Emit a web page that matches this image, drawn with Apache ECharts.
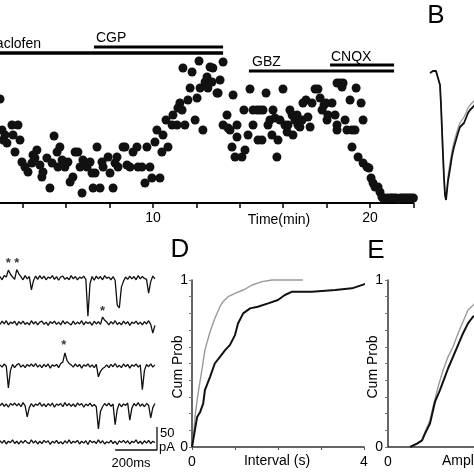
<!DOCTYPE html>
<html><head><meta charset="utf-8">
<script src="https://cdn.jsdelivr.net/npm/echarts@6/dist/echarts.min.js"></script>
<style>html,body{margin:0;padding:0;background:#fff}#c{width:474px;height:474px}</style>
</head><body><div id="c"></div>
<script>
// ---------- Panel A: EPSC amplitude vs time ----------
const aTime = [2.95,3.04,3.18,3.09,3.27,3.50,3.78,3.55,3.87,3.64,3.96,4.10,4.24,4.42,4.47,4.65,4.56,4.79,4.88,4.93,5.11,5.25,5.35,5.44,5.58,5.71,5.62,5.81,5.94,6.08,6.18,6.31,6.41,6.54,6.64,6.73,6.77,6.96,7.10,7.19,7.33,7.42,7.24,7.56,7.65,7.70,7.93,8.02,8.16,8.25,8.34,8.39,8.62,8.71,8.80,8.94,9.08,9.26,9.31,9.49,9.63,9.72,9.86,9.95,10.09,10.18,10.32,10.41,10.46,10.60,10.69,10.88,10.92,11.11,11.15,11.24,11.34,11.38,11.47,11.61,11.71,11.80,11.94,12.03,12.12,12.17,12.30,12.40,12.49,12.53,12.63,12.72,12.76,12.95,13.00,13.09,13.23,13.23,13.41,13.46,13.55,13.64,13.69,13.78,13.87,13.87,14.10,14.24,14.19,14.47,14.38,14.61,14.61,14.79,14.84,14.93,15.02,15.07,15.21,15.30,15.39,15.48,15.53,15.62,15.71,15.76,15.85,15.99,16.08,16.18,16.22,16.31,16.41,16.45,16.54,16.64,16.68,16.77,16.87,16.91,17.05,17.14,17.24,17.33,17.47,17.60,17.70,17.79,17.88,17.97,18.02,18.06,18.25,18.39,18.48,18.48,18.48,18.62,18.76,18.71,18.85,18.94,19.08,19.17,19.31,19.36,19.59,19.68,19.17,19.45,19.68,19.86,19.95,20.05,20.14,20.23,20.37,20.46,20.55,20.60,20.78,20.92,21.0,21.1,21.2,21.3,21.4,21.5,21.6,21.7,21.8,21.9,22.0,22.15];
const aAmp = [104,73,68,63,60,78,78,68,63,51,41,36,31,40,48,53,45,38,26,31,45,15,40,67,51,56,36,43,36,41,21,26,51,51,36,10,43,36,41,30,30,56,15,15,41,36,46,30,15,40,46,36,56,56,38,36,51,56,36,36,20,56,36,25,61,73,25,51,68,83,56,78,88,78,95,100,93,135,78,103,115,131,83,105,142,115,73,121,126,115,136,121,135,110,110,123,141,78,88,75,73,56,108,46,66,78,46,53,93,114,68,78,93,93,63,93,63,93,110,78,83,68,93,85,46,63,83,114,78,71,78,93,88,68,83,88,78,76,83,100,103,86,76,100,114,114,105,93,98,100,83,88,100,88,78,120,73,120,120,116,83,73,103,73,73,115,100,83,56,46,40,36,35,25,20,16,16,11,6,5,5,5,5,5,5,4,5,5,5,5,5,5,5];
const drugNames = ['Baclofen','CGP','GBZ','CNQX'];
const drugStart = [2.0, 7.28, 14.42, 18.16];
const drugEnd   = [13.23, 13.23, 21.11, 21.11];
const drugLevel = [150, 156, 132, 138];
const aTickLabels = [10, 20];

// ---------- Panel B: averaged EPSC traces ----------
const bTime = [1,2,2.5,3.5,4,4.5,5,6,6.5,7,7.5,8,8.5,9,10,11,12,13,14,15,16,17,18,19,20,21,22,23,24];
const bCtl  = [-3,-2,-1,-3,-1,0,-2,-15,-35,-60,-85,-108,-125,-130,-111,-99,-86,-77,-70,-63,-57,-55,-53,-48,-43,-40,-38,-36,-33];
const bDrug = [-3,-2,-1,-3,-1,0,-2,-15,-35,-60,-85,-108,-125,-129,-106,-93,-81,-72,-65,-58,-53,-50,-47,-43,-38,-35,-33,-31,-29];

// ---------- Panel C: sweeps (pA relative to baseline, 10 ms samples) ----------
const sampleMs = 10;
const sweep1 = [3,-4,5,2,17,8,2,-3,18,9,3,-4,5,-2,3,-26,-6,4,-3,5,-2,4,-4,2,-1,5,-3,3,-5,2,4,-3,1,-4,5,-2,3,-4,2,-1,4,-3,-83,-12,3,-5,4,-2,3,-4,5,-1,2,-4,3,-5,-59,-65,-20,-7,2,-3,4,-2,3,-4,5,-2,3,-1,-3,-33,-8,4,-2];
const sweep2 = [-3,4,-2,5,-4,2,-1,4,-5,3,-2,4,-3,1,-4,5,-2,3,-4,2,4,-3,2,-5,3,-1,4,-3,2,-4,5,-2,3,-1,-4,4,-3,2,-2,5,-4,3,-1,2,-5,4,-2,3,-3,13,6,2,-4,3,-2,5,-3,1,-4,4,-2,3,-5,2,-1,4,-3,2,-4,3,-2,5,-3,-22,-5];
const sweep3 = [2,-3,4,-1,-48,-10,3,-4,2,5,-3,2,-4,3,-1,4,-2,5,-3,2,-4,3,-2,4,-5,2,-1,3,-4,5,8,28,12,5,2,-3,4,-2,3,-5,2,-1,4,-3,2,-4,3,-24,-12,-6,-3,2,-4,3,-2,5,-3,1,-4,4,-2,3,-5,2,-1,4,-3,2,-52,-10,3,-2,4,-3,2];
const sweep4 = [-2,4,-3,2,-5,3,-1,4,-2,3,-4,5,-2,-26,-6,3,-4,2,-1,5,-3,2,-4,3,-2,4,-5,2,-1,3,-4,5,-2,3,-3,2,-4,4,-1,3,-5,2,-2,4,-3,1,-4,-52,-14,-4,3,-2,4,-3,2,-43,-10,3,-4,2,-1,4,-33,-7,3,-2,5,-3,2,-4,3,-1,-28,-6,3];
const sweep5 = [3,-2,4,-4,2,-1,5,-3,2,-4,3,-2,4,-1,-3,5,-2,3,-4,2,-3,4,-1,3,-5,2,-2,4,-3,1,-4,3,-2,5,-3,2,-1,4,-4,2,-2,3,-5,4,-1,2,-3,5,-2,3,-4,1,-2,4,-3,2,-5,3,-1,4,-2,3,-4,2,-1,5,-3,2,-4,3,-2,4,-3,2,-1];
const starTime = [40, 80, 490, 305];
const starSweep = [0, 0, 1, 2];
const scaleBarMs = 200, scaleBarPA = 50;

// ---------- Panel D: cumulative interval ----------
const dCtlX = [0,0.12,0.19,0.26,0.30,0.42,0.53,0.65,0.77,0.88,1.0,1.07,1.19,1.35,1.53,1.77,2.0,2.16,2.33,2.79,3.33,3.72,4.07];
const dCtlY = [0,0.18,0.21,0.26,0.34,0.42,0.50,0.54,0.58,0.61,0.67,0.74,0.80,0.83,0.84,0.86,0.88,0.91,0.93,0.93,0.94,0.95,0.98];
const dDrugX = [0,0.02,0.07,0.14,0.23,0.30,0.42,0.53,0.65,0.72,0.84,1.0,1.19,1.40,1.63,1.86,2.58];
const dDrugY = [0,0.02,0.18,0.32,0.46,0.58,0.69,0.77,0.84,0.87,0.90,0.92,0.94,0.97,0.99,1.0,1.0];

// ---------- Panel E: cumulative amplitude ----------
const eCtlX = [12.8,16.9,19.8,21.5,24.4,26.2,27.3,30.2,33.1,34.9,37.8,40.7,43.6,46.5,49.4,51.7];
const eCtlY = [0,0.02,0.04,0.08,0.14,0.22,0.27,0.34,0.42,0.47,0.54,0.61,0.68,0.74,0.78,0.79];
const eDrugX = [12.8,16.9,19.8,21.5,24.4,26.2,29.1,32.0,34.9,37.8,40.7,43.6,46.5,50.6];
const eDrugY = [0,0.02,0.04,0.09,0.16,0.24,0.36,0.46,0.54,0.60,0.68,0.75,0.82,0.86];

// ================= build =================
const F = "'Liberation Sans', Arial, Helvetica, sans-serif";
const zip = (xs, ys) => xs.map((x, i) => [x, ys[i]]);
const sweeps = [sweep1, sweep2, sweep3, sweep4, sweep5];
const sweepBase = [-39, -137, -230, -315, -396];   // layout offsets (pA) of stacked sweeps
const starLift = [32, 32, 26, 45];

const hiddenAxis = (gi, min, max) => ({gridIndex: gi, min, max, show: false});
const series = [];

drugNames.forEach((n, i) => series.push({
  type: 'line', xAxisIndex: 0, yAxisIndex: 0, symbol: 'none', silent: true, clip: false,
  data: [[drugStart[i], drugLevel[i]], [drugEnd[i], drugLevel[i]]],
  lineStyle: {color: '#000', width: i === 0 ? 3.5 : 3}
}));
series.push({
  type: 'scatter', xAxisIndex: 0, yAxisIndex: 0, clip: false, symbolSize: 9,
  itemStyle: {color: '#111', opacity: 1}, data: zip(aTime, aAmp)
});
series.push({type: 'line', xAxisIndex: 1, yAxisIndex: 1, symbol: 'none', clip: false,
  data: zip(bTime, bDrug), lineStyle: {color: '#999', width: 1.3}});
series.push({type: 'line', xAxisIndex: 1, yAxisIndex: 1, symbol: 'none', clip: false,
  data: zip(bTime, bCtl), lineStyle: {color: '#111', width: 1.8}});
sweeps.forEach((s, k) => series.push({
  type: 'line', xAxisIndex: 2, yAxisIndex: 2, symbol: 'none', clip: false,
  data: s.map((v, i) => [i * sampleMs, sweepBase[k] + v]),
  lineStyle: {color: '#111', width: 1.3}
}));
series.push({
  type: 'scatter', xAxisIndex: 2, yAxisIndex: 2, symbolSize: 0, clip: false,
  data: starTime.map((t, i) => [t, sweepBase[starSweep[i]] + starLift[i]]),
  label: {show: true, formatter: '*', position: 'inside', color: '#000', fontSize: 13, fontFamily: F, fontWeight: 'bold'}
});
series.push({
  type: 'line', xAxisIndex: 2, yAxisIndex: 2, symbol: 'none', clip: false,
  data: [[750 - scaleBarMs, -413], [750, -413], [750, -413 + scaleBarPA]],
  lineStyle: {color: '#111', width: 1.3}
});
series.push({type: 'line', xAxisIndex: 3, yAxisIndex: 3, symbol: 'none', clip: false,
  data: zip(dDrugX, dDrugY), lineStyle: {color: '#999', width: 1.4}});
series.push({type: 'line', xAxisIndex: 3, yAxisIndex: 3, symbol: 'none', clip: false,
  data: zip(dCtlX, dCtlY), lineStyle: {color: '#111', width: 2}});
series.push({type: 'line', xAxisIndex: 4, yAxisIndex: 4, symbol: 'none', clip: false,
  data: zip(eDrugX, eDrugY), lineStyle: {color: '#999', width: 1.4}});
series.push({type: 'line', xAxisIndex: 4, yAxisIndex: 4, symbol: 'none', clip: false,
  data: zip(eCtlX, eCtlY), lineStyle: {color: '#111', width: 2}});

const axLine = {lineStyle: {color: '#333', width: 1.5}};
const near = (a, b) => Math.abs(a - b) < 1e-9;

const txt = (text, x, y, opt = {}) => ({
  type: 'text', x, y, rotation: opt.rot || 0, silent: true,
  style: {text, fill: '#000', font: (opt.size || 14) + 'px ' + F,
    textAlign: opt.align || 'left', align: opt.align || 'left',
    textVerticalAlign: 'middle', verticalAlign: 'middle'}
});
const G = (o) => Object.assign({outerBoundsMode: 'none', containLabel: false}, o);

const option = {
  animation: false,
  backgroundColor: '#fff',
  grid: [
    G({left: -20.6, top: 40, width: 434, height: 163}),
    G({left: 428, top: 60, width: 60, height: 150}),
    G({left: 0, top: 260, width: 157, height: 207}),
    G({left: 192, top: 280, width: 172, height: 167}),
    G({left: 388, top: 280, width: 172, height: 167})
  ],
  xAxis: [
    {gridIndex: 0, type: 'value', min: 2, max: 22, interval: 2,
     axisLine: {lineStyle: {color: '#000', width: 2}},
     axisTick: {length: 5, lineStyle: {color: '#000', width: 1.5}},
     axisLabel: {margin: 8, fontSize: 14, color: '#000', fontFamily: F,
       formatter: v => aTickLabels.some(t => near(t, v)) ? String(v) : ''},
     splitLine: {show: false}},
    hiddenAxis(1, 0, 30),
    hiddenAxis(2, 0, 750),
    {gridIndex: 3, type: 'value', min: 0, max: 4, interval: 1,
     axisLine: axLine, axisTick: {length: 3, lineStyle: {color: '#555', width: 1}},
     axisLabel: {margin: 8, fontSize: 14, color: '#000', fontFamily: F,
       formatter: v => (near(v, 0) || near(v, 4)) ? String(v) : ''},
     splitLine: {show: false}},
    {gridIndex: 4, type: 'value', min: 0, max: 100, interval: 100,
     axisLine: axLine, axisTick: {show: false},
     axisLabel: {margin: 8, fontSize: 14, color: '#000', fontFamily: F,
       formatter: v => near(v, 0) ? '0' : ''},
     splitLine: {show: false}}
  ],
  yAxis: [
    hiddenAxis(0, 0, 163),
    hiddenAxis(1, -140, 10),
    hiddenAxis(2, -450, 0),
    {gridIndex: 3, type: 'value', min: 0, max: 1, interval: 0.1,
     axisLine: axLine, axisTick: {length: 3, lineStyle: {color: '#777', width: 1}},
     axisLabel: {margin: 4, fontSize: 14, color: '#000', fontFamily: F,
       formatter: v => (near(v, 0) || near(v, 1)) ? String(Math.round(v)) : ''},
     splitLine: {show: false}},
    {gridIndex: 4, type: 'value', min: 0, max: 1, interval: 0.1,
     axisLine: axLine, axisTick: {length: 3, lineStyle: {color: '#777', width: 1}},
     axisLabel: {margin: 5, fontSize: 14, color: '#000', fontFamily: F,
       formatter: v => (near(v, 0) || near(v, 1)) ? String(Math.round(v)) : ''},
     splitLine: {show: false}}
  ],
  series,
  graphic: [
    txt('Baclofen', 41, 44, {align: 'right'}),
    txt('CGP', 96, 38),
    txt('GBZ', 252, 62),
    txt('CNQX', 331, 57),
    txt('Time(min)', 279, 220, {align: 'center'}),
    txt('B', 436, 16, {size: 26, align: 'center'}),
    txt('D', 180, 250, {size: 26, align: 'center'}),
    txt('E', 376, 251, {size: 26, align: 'center'}),
    txt('Cum Prob', 178, 367, {align: 'center', rot: Math.PI / 2}),
    txt('Cum Prob', 373, 367, {align: 'center', rot: Math.PI / 2}),
    txt('Interval (s)', 277, 461, {align: 'center'}),
    txt('Amplitude (pA)', 442, 461),
    txt('50', 160, 433, {size: 13}),
    txt('pA', 159, 447, {size: 13}),
    txt('200ms', 131, 463, {size: 13, align: 'center'})
  ]
};
const chart = echarts.init(document.getElementById('c'));
chart.setOption(option);
</script></body></html>
